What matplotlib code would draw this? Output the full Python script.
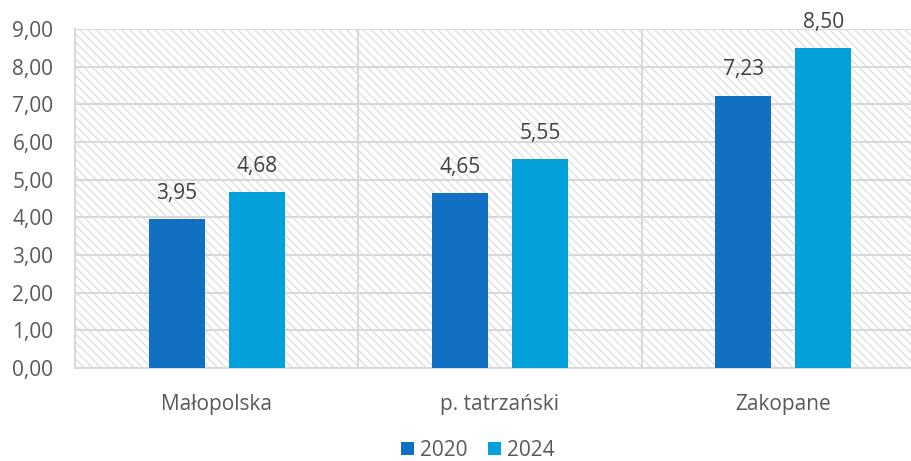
import matplotlib
matplotlib.use("Agg")
import matplotlib.pyplot as plt
from matplotlib.patches import Rectangle
import numpy as np

categories = ["Małopolska", "p. tatrzański", "Zakopane"]
series_names = ["2020", "2024"]
values_2020 = [3.95, 4.65, 7.23]
values_2024 = [4.68, 5.55, 8.50]
colors = ["#1170C4", "#03A0DA"]

plt.rcParams['font.family'] = ['Open Sans', 'DejaVu Sans']
plt.rcParams['hatch.linewidth'] = 0.8
plt.rcParams['hatch.color'] = '#dadada'

fig = plt.figure(figsize=(9.12, 4.61), dpi=100)
ax = fig.add_axes([75/912, 1-368/461, (912-75)/912, (368-29)/461])

x = np.arange(len(categories))
w = 0.198
off = 0.141
b1 = ax.bar(x - off, values_2020, w, color=colors[0], label=series_names[0], zorder=3)
b2 = ax.bar(x + off, values_2024, w, color=colors[1], label=series_names[1], zorder=3)

for bars, vals in ((b1, values_2020), (b2, values_2024)):
    for r, v in zip(bars, vals):
        ax.annotate(f"{v:.2f}".replace('.', ','), (r.get_x() + r.get_width()/2, v),
                    xytext=(0, 18.5), textcoords='offset points', ha='center', va='center',
                    fontsize=15, color='#404040', zorder=4)

ax.set_ylim(0, 9)
ax.set_xlim(-0.5, -0.5 + (912-75)/283.3)
ax.set_yticks(np.arange(0, 9.01, 1))
ax.set_yticklabels([f"{t:.2f}".replace('.', ',') for t in np.arange(0, 9.01, 1)])
ax.set_xticks(x)
ax.set_xticklabels(categories)
ax.tick_params(axis='both', length=0, labelsize=15, colors='#595959')
ax.tick_params(axis='x', pad=18.5)
ax.tick_params(axis='y', pad=15.5)

ax.patch.set_facecolor('white')
bg = Rectangle((0, 0), 1, 1, transform=ax.transAxes, facecolor='white',
               edgecolor='#dadada', hatch='\\\\\\\\', linewidth=0, zorder=0)
ax.add_patch(bg)

for yv in np.arange(1, 9.01, 1):
    ax.axhline(yv, color='#d9d9d9', linewidth=1.5, zorder=1)
for xv in [0.5, 1.5]:
    ax.axvline(xv, color='#d9d9d9', linewidth=1.5, zorder=1)

for s in ['top', 'right']:
    ax.spines[s].set_visible(False)
ax.spines['left'].set_color('#d9d9d9')
ax.spines['left'].set_linewidth(1.5)
ax.spines['bottom'].set_color('#d9d9d9')
ax.spines['bottom'].set_linewidth(1.5)

leg = fig.legend(handles=[b1, b2], labels=series_names, loc='center', bbox_to_anchor=(478/912, 1-450/461),
                 ncol=2, frameon=False, fontsize=15, handlelength=0.6, handleheight=0.6,
                 handletextpad=0.3, columnspacing=1.0)
for t in leg.get_texts():
    t.set_color('#595959')

fig.savefig("out.png", dpi=100)
